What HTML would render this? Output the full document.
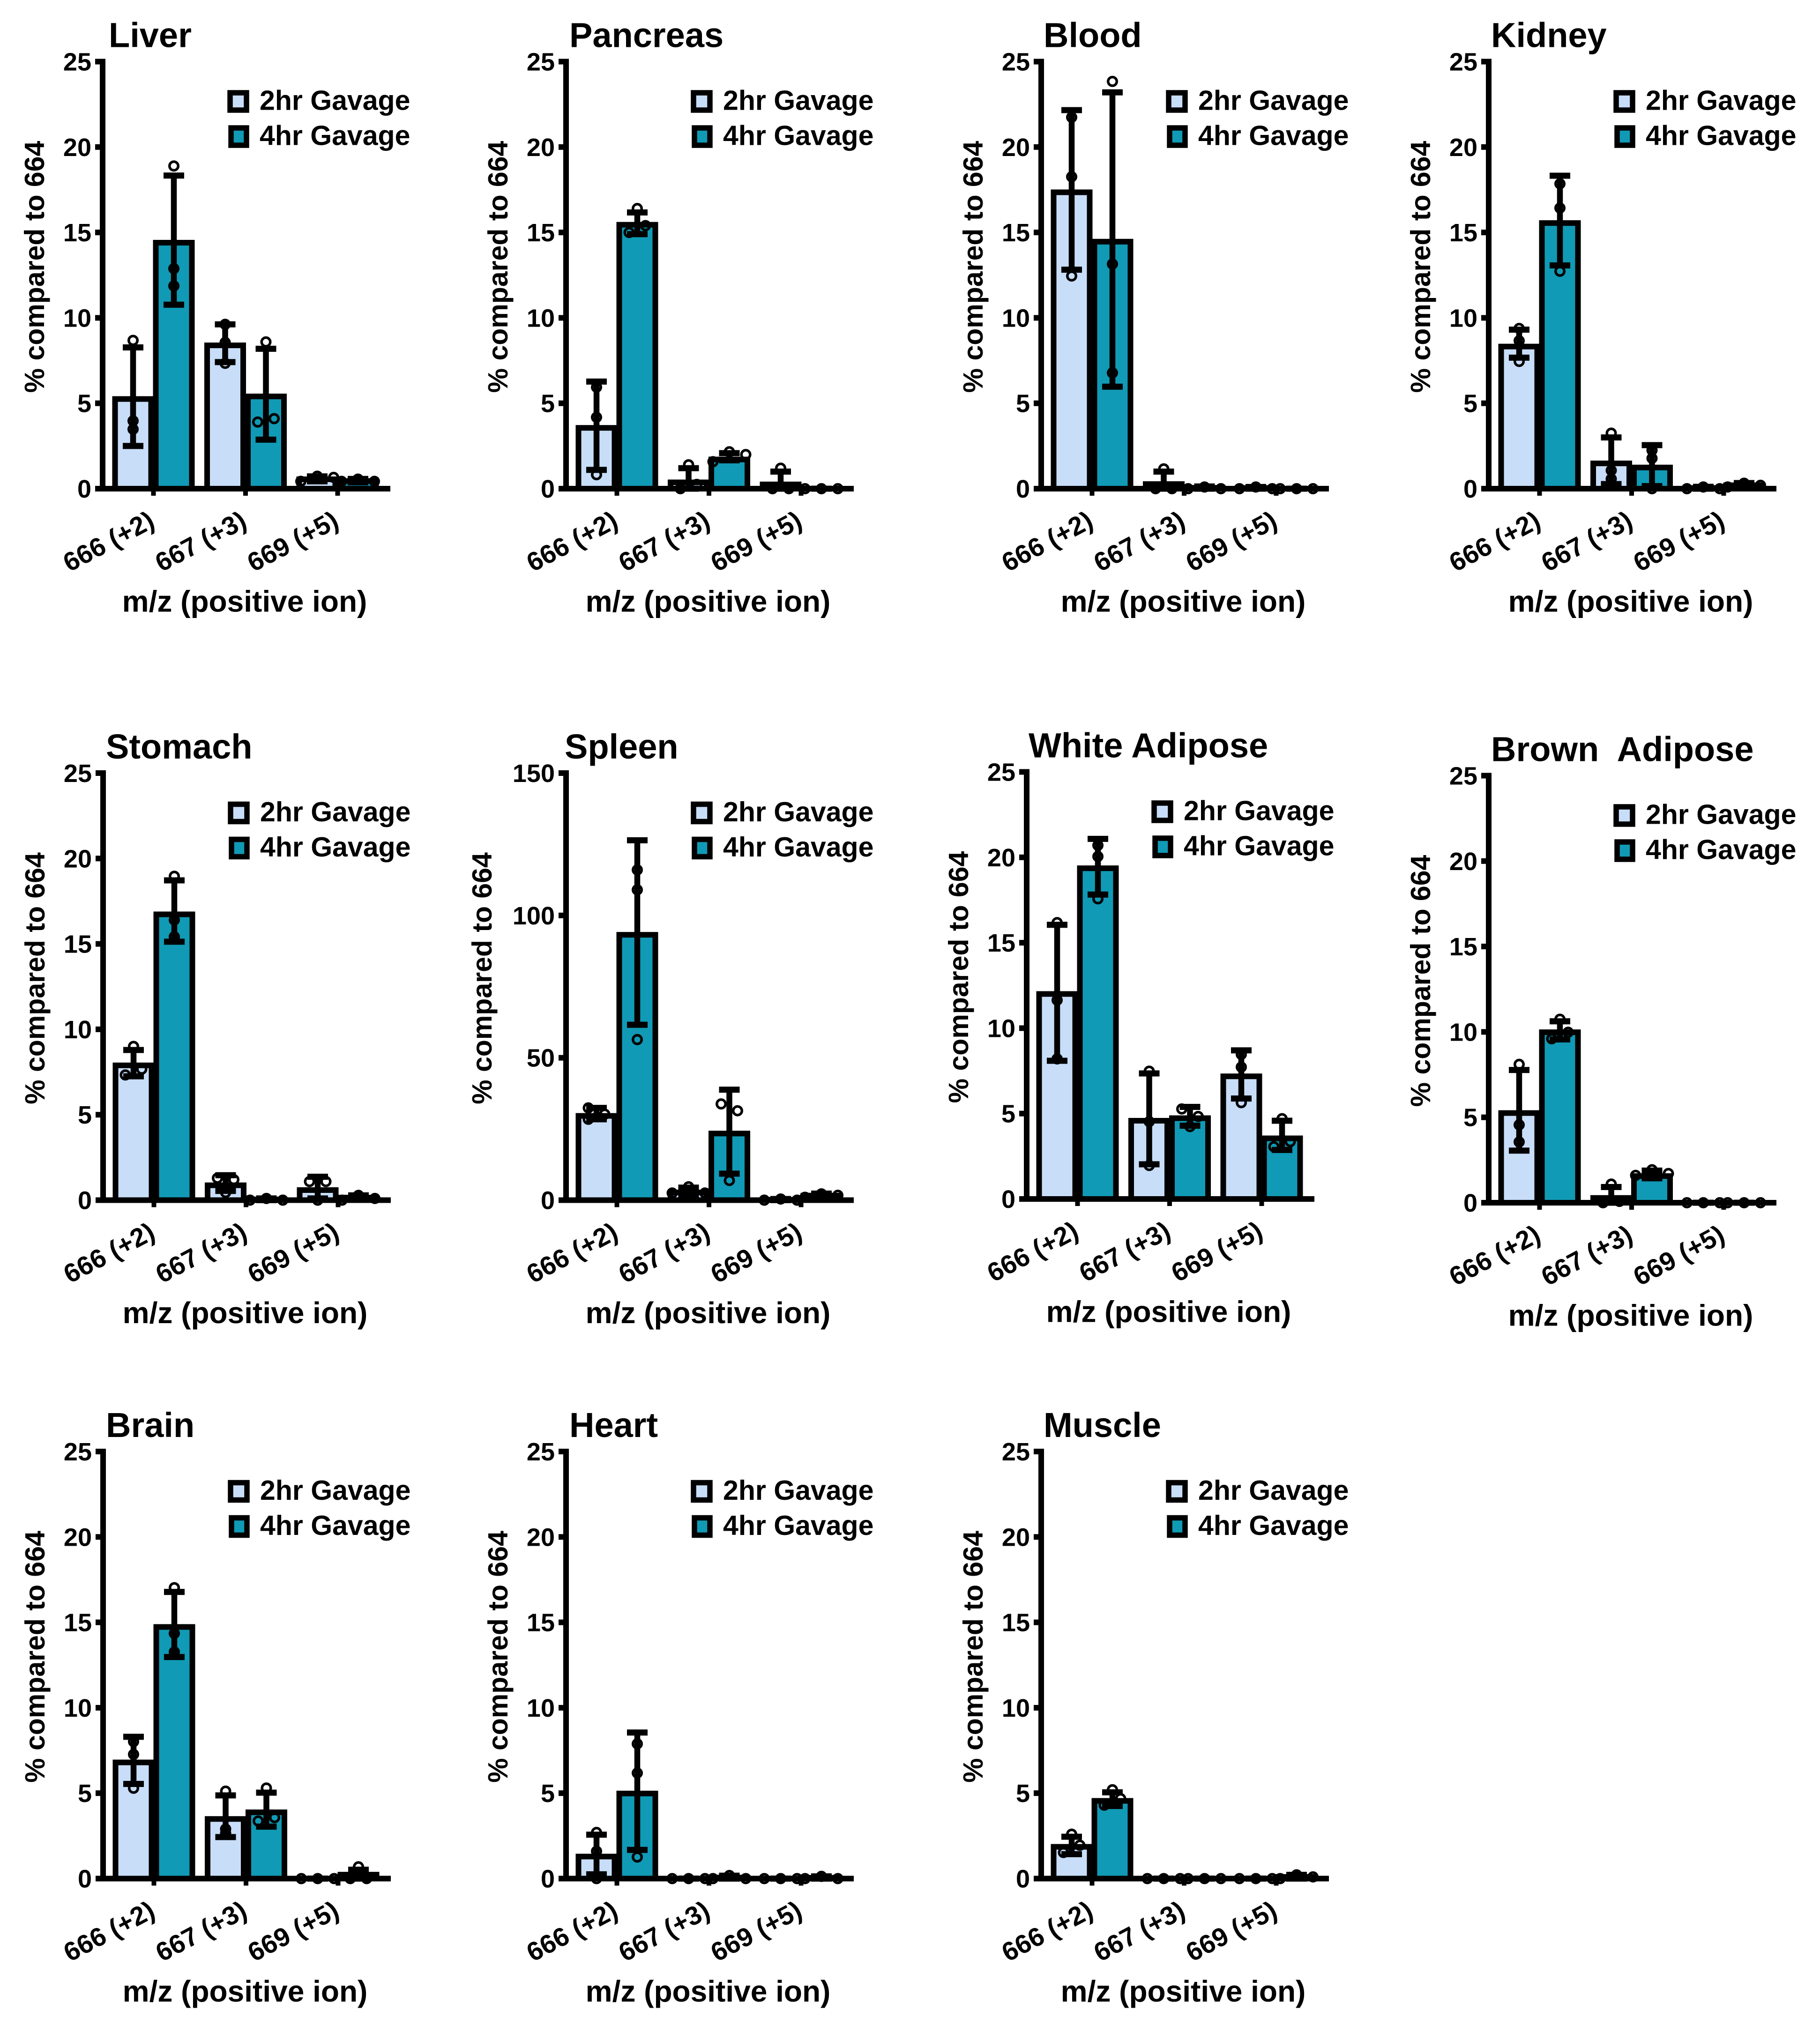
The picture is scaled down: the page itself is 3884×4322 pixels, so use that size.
<!DOCTYPE html>
<html lang="en">
<head>
<meta charset="utf-8">
<title>% compared to 664 by tissue</title>
<style>
html,body{margin:0;padding:0;background:#fff;}
svg{display:block;}
text{font-family:"Liberation Sans",Arial,sans-serif;font-weight:700;fill:#000;}
.title{font-size:74px;}
.ylabel{font-size:59px;text-anchor:middle;}
.xlabel{font-size:64px;text-anchor:middle;}
.legend{font-size:59px;}
.ytick{font-size:54px;text-anchor:end;}
.xtick{font-size:56px;text-anchor:end;}
.sw{stroke:#000;stroke-width:11.5;}
.light{fill:#C8DDF8;}
.teal{fill:#109AB5;}
</style>
</head>
<body>
<svg id="fig" xmlns="http://www.w3.org/2000/svg" width="3884" height="4322" viewBox="0 0 3884 4322">
<rect width="3884" height="4322" fill="#fff"/>

<g id="panel-0" transform="translate(219,131.5)">
<text class="title" x="13" y="-31">Liver</text>
<text class="ylabel" transform="translate(-125,438) rotate(-90)">% compared to 664</text>
<text class="xlabel" x="303" y="1174">m/z (positive ion)</text>
<rect class="sw light" x="272" y="66.5" width="35" height="37"/><text class="legend" x="335" y="103">2hr Gavage</text>
<rect class="sw teal" x="274" y="141.5" width="33" height="37"/><text class="legend" x="335" y="178">4hr Gavage</text>
</g>

<g id="panel-1" transform="translate(1208,131.5)">
<text class="title" x="7" y="-31">Pancreas</text>
<text class="ylabel" transform="translate(-125,438) rotate(-90)">% compared to 664</text>
<text class="xlabel" x="303" y="1174">m/z (positive ion)</text>
<rect class="sw light" x="272" y="66.5" width="35" height="37"/><text class="legend" x="335" y="103">2hr Gavage</text>
<rect class="sw teal" x="274" y="141.5" width="33" height="37"/><text class="legend" x="335" y="178">4hr Gavage</text>
</g>

<g id="panel-2" transform="translate(2222,131.5)">
<text class="title" x="5" y="-31">Blood</text>
<text class="ylabel" transform="translate(-125,438) rotate(-90)">% compared to 664</text>
<text class="xlabel" x="303" y="1174">m/z (positive ion)</text>
<rect class="sw light" x="272" y="66.5" width="35" height="37"/><text class="legend" x="335" y="103">2hr Gavage</text>
<rect class="sw teal" x="274" y="141.5" width="33" height="37"/><text class="legend" x="335" y="178">4hr Gavage</text>
</g>

<g id="panel-3" transform="translate(3177,131.5)">
<text class="title" x="5" y="-31">Kidney</text>
<text class="ylabel" transform="translate(-125,438) rotate(-90)">% compared to 664</text>
<text class="xlabel" x="303" y="1174">m/z (positive ion)</text>
<rect class="sw light" x="272" y="66.5" width="35" height="37"/><text class="legend" x="335" y="103">2hr Gavage</text>
<rect class="sw teal" x="274" y="141.5" width="33" height="37"/><text class="legend" x="335" y="178">4hr Gavage</text>
</g>

<g id="panel-4" transform="translate(220,1650)">
<text class="title" x="6" y="-31">Stomach</text>
<text class="ylabel" transform="translate(-125,438) rotate(-90)">% compared to 664</text>
<text class="xlabel" x="303" y="1174">m/z (positive ion)</text>
<rect class="sw light" x="272" y="66.5" width="35" height="37"/><text class="legend" x="335" y="103">2hr Gavage</text>
<rect class="sw teal" x="274" y="141.5" width="33" height="37"/><text class="legend" x="335" y="178">4hr Gavage</text>
</g>

<g id="panel-5" transform="translate(1208,1650)">
<text class="title" x="-3" y="-31">Spleen</text>
<text class="ylabel" transform="translate(-159,438) rotate(-90)">% compared to 664</text>
<text class="xlabel" x="303" y="1174">m/z (positive ion)</text>
<rect class="sw light" x="272" y="66.5" width="35" height="37"/><text class="legend" x="335" y="103">2hr Gavage</text>
<rect class="sw teal" x="274" y="141.5" width="33" height="37"/><text class="legend" x="335" y="178">4hr Gavage</text>
</g>

<g id="panel-6" transform="translate(2191,1647.5)">
<text class="title" x="4" y="-31">White Adipose</text>
<text class="ylabel" transform="translate(-125,438) rotate(-90)">% compared to 664</text>
<text class="xlabel" x="303" y="1174">m/z (positive ion)</text>
<rect class="sw light" x="272" y="66.5" width="35" height="37"/><text class="legend" x="335" y="103">2hr Gavage</text>
<rect class="sw teal" x="274" y="141.5" width="33" height="37"/><text class="legend" x="335" y="178">4hr Gavage</text>
</g>

<g id="panel-7" transform="translate(3177,1655.5)">
<text class="title" x="5" y="-31" xml:space="preserve" style="white-space:pre">Brown  Adipose</text>
<text class="ylabel" transform="translate(-125,438) rotate(-90)">% compared to 664</text>
<text class="xlabel" x="303" y="1174">m/z (positive ion)</text>
<rect class="sw light" x="272" y="66.5" width="35" height="37"/><text class="legend" x="335" y="103">2hr Gavage</text>
<rect class="sw teal" x="274" y="141.5" width="33" height="37"/><text class="legend" x="335" y="178">4hr Gavage</text>
</g>

<g id="panel-8" transform="translate(220,3098)">
<text class="title" x="6" y="-31">Brain</text>
<text class="ylabel" transform="translate(-125,438) rotate(-90)">% compared to 664</text>
<text class="xlabel" x="303" y="1174">m/z (positive ion)</text>
<rect class="sw light" x="272" y="66.5" width="35" height="37"/><text class="legend" x="335" y="103">2hr Gavage</text>
<rect class="sw teal" x="274" y="141.5" width="33" height="37"/><text class="legend" x="335" y="178">4hr Gavage</text>
</g>

<g id="panel-9" transform="translate(1208,3098)">
<text class="title" x="7" y="-31">Heart</text>
<text class="ylabel" transform="translate(-125,438) rotate(-90)">% compared to 664</text>
<text class="xlabel" x="303" y="1174">m/z (positive ion)</text>
<rect class="sw light" x="272" y="66.5" width="35" height="37"/><text class="legend" x="335" y="103">2hr Gavage</text>
<rect class="sw teal" x="274" y="141.5" width="33" height="37"/><text class="legend" x="335" y="178">4hr Gavage</text>
</g>

<g id="panel-10" transform="translate(2222,3098)">
<text class="title" x="5" y="-31">Muscle</text>
<text class="ylabel" transform="translate(-125,438) rotate(-90)">% compared to 664</text>
<text class="xlabel" x="303" y="1174">m/z (positive ion)</text>
<rect class="sw light" x="272" y="66.5" width="35" height="37"/><text class="legend" x="335" y="103">2hr Gavage</text>
<rect class="sw teal" x="274" y="141.5" width="33" height="37"/><text class="legend" x="335" y="178">4hr Gavage</text>
</g>
</svg>

<script>
// Categories and axis ticks
const mzLabels = ['666 (+2)', '667 (+3)', '669 (+5)'];
const seriesNames = ['2hr', '4hr'];
const defaultTicks = [0, 5, 10, 15, 20, 25];
const spleenTicks = [0, 50, 100, 150];
const panelTicks = [defaultTicks, defaultTicks, defaultTicks, defaultTicks, defaultTicks, spleenTicks, defaultTicks, defaultTicks, defaultTicks, defaultTicks, defaultTicks];

// Each row: one tissue; order 2hr/4hr at 666, 2hr/4hr at 667, 2hr/4hr at 669
const meanValues = [
  [5.25, 14.4, 8.39, 5.4, 0.55, 0.45],
  [3.56, 15.45, 0.37, 1.71, 0.25, 0],
  [17.35, 14.46, 0.27, 0.05, 0.04, 0],
  [8.32, 15.55, 1.48, 1.24, 0.04, 0.2],
  [7.89, 16.73, 0.87, 0.04, 0.59, 0.15],
  [29.6, 93.2, 2.7, 23.4, 0.15, 1.6],
  [12, 19.36, 4.58, 4.73, 7.18, 3.55],
  [5.25, 9.98, 0.28, 1.56, 0, 0],
  [6.8, 14.73, 3.49, 3.88, 0, 0.23],
  [1.29, 4.98, 0, 0.06, 0, 0.05],
  [1.86, 4.55, 0, 0, 0, 0.1]
];
const errorHigh = [
  [8.27, 18.33, 9.62, 8.19, 0.72, 0.57],
  [6.27, 16.17, 1.2, 2.08, 1, 0],
  [22.16, 23.2, 1, 0.13, 0.1, 0],
  [9.31, 18.32, 3, 2.55, 0.11, 0.33],
  [8.79, 18.72, 1.46, 0.1, 1.37, 0.28],
  [32.4, 126.4, 4.4, 38.8, 0.4, 2.3],
  [16.05, 21.08, 7.35, 5.39, 8.7, 4.58],
  [7.77, 10.62, 0.92, 1.88, 0, 0],
  [8.3, 16.78, 4.87, 5.03, 0, 0.52],
  [2.57, 8.55, 0, 0.17, 0, 0.13],
  [2.45, 5.05, 0, 0, 0, 0.22]
];
const errorLow = [
  [2.5, 10.77, 7.41, 2.87, 0.43, 0.37],
  [1.1, 14.9, 0, 1.66, 0, 0],
  [12.82, 5.97, 0, 0, 0, 0],
  [7.67, 13.07, 0.27, 0.15, 0, 0.1],
  [7.25, 15.13, 0.54, 0, 0.1, 0.02],
  [28.4, 61.6, 1.7, 9.3, 0, 1],
  [8.09, 17.82, 2.03, 4.29, 5.88, 2.87],
  [3.05, 9.56, 0, 1.43, 0, 0],
  [5.54, 12.97, 2.43, 3.04, 0, 0],
  [0.25, 1.68, 0, 0, 0, 0],
  [1.43, 4.25, 0, 0, 0, 0]
];
const dotValues = [
  [[8.68,3.97,3.48],[18.89,12.88,11.87],[9.62,8.56,7.34],[8.59,3.9,4.1],[0.43,0.73,0.66],[0.43,0.56,0.43]],
  [[5.94,4.18,0.82],[16.4,15,15.4],[1.4,0,0.25],[1.58,2.16,2],[1.2,0,0],[0,0,0]],
  [[21.74,18.26,12.45],[23.84,13.15,6.78],[1.16,0,0],[0,0.1,0],[0,0.1,0],[0,0,0]],
  [[9.38,8.66,7.45],[17.85,16.43,12.73],[3.25,1.07,0.57],[2.25,1.78,0],[0,0.1,0],[0.1,0.32,0.2]],
  [[9,7.33,7.67],[18.96,16.4,15.42],[0.45,1.29,1.2],[0,0.1,0],[0,1.09,1.09],[0,0.28,0.1]],
  [[32.4,28.4,30.2],[116,109,56.4],[2.5,4.7,2.5],[6.9,33.8,31.4],[0,0.4,0],[1,2.2,1.7]],
  [[16.18,11.64,8.2],[20.7,20.05,17.57],[7.48,4.53,1.96],[4.24,5.27,4.83],[8.46,7.72,5.64],[4.7,3.06,3.36]],
  [[8.1,4.56,3.56],[10.74,9.6,9.98],[1.09,0,0.08],[1.6,1.93,1.71],[0,0,0],[0,0,0]],
  [[8.02,7.27,5.29],[17.03,14.35,13.27],[5.12,2.9,2.65],[5.3,3.37,3.57],[0,0,0],[0.69,0,0]],
  [[2.7,1.6,0],[7.89,6.18,1.26],[0,0,0],[0,0.18,0],[0,0,0],[0,0.13,0]],
  [[2.6,1.53,1.95],[5.2,4.3,4.68],[0,0,0],[0,0,0],[0,0,0],[0,0.22,0.1]]
];
// Swarm arrangement of each bar's three dots: c centre, l/r near side, L/R far side
const dotSlots = [
  ['ccc','ccc','ccc','clr','LcR','LcR'],
  ['ccc','clr','clr','LcR','clr','LcR'],
  ['ccc','ccc','clr','LcR','LcR','LcR'],
  ['ccc','ccc','ccc','ccc','LcR','LcR'],
  ['clr','ccc','clr','LcR','clr','LcR'],
  ['llr','ccc','LcR','clr','LcR','LcR'],
  ['ccc','ccc','ccc','clr','ccc','clr'],
  ['ccc','clr','clr','LcR','LcR','LcR'],
  ['ccc','ccc','ccc','clr','LcR','clr'],
  ['ccc','ccc','LcR','LcR','LcR','LcR'],
  ['clr','clr','LcR','LcR','LcR','LcR']
];

const NS = 'http://www.w3.org/2000/svg';
const plotH = 911.5;
const groupStart = 108.5;
const groupStep = 196.5;
const barOffset = 43.5;
const barHalf = 38.5;
const slotOffsets = { c: 0, l: -17.5, r: 17.5, L: -35, R: 35 };

function mk(tag, attrs, parent) {
  const el = document.createElementNS(NS, tag);
  for (const k in attrs) el.setAttribute(k, attrs[k]);
  parent.appendChild(el);
  return el;
}
function yScale(v, max) { return plotH - plotH * v / max; }
function groupX(g) { return groupStart + groupStep * g; }

meanValues.forEach(function (means, p) {
  const panel = document.getElementById('panel-' + p);
  const ticks = panelTicks[p];
  const max = ticks[ticks.length - 1];

  means.forEach(function (m, i) {
    const g = Math.floor(i / 2);
    const s = i % 2;
    const cx = groupX(g) + (s === 0 ? -barOffset : barOffset);
    const top = yScale(m, max);
    const bar = mk('rect', { x: cx - barHalf, y: top, width: barHalf * 2, height: Math.max(0, plotH - top), fill: s === 0 ? '#C8DDF8' : '#109AB5', stroke: '#000', 'stroke-width': 12 }, panel);
    
    
  });

  const yAxis = mk('rect', { x: -6, y: -6, width: 12, height: plotH + 12, fill: '#000' }, panel);
  
  
  const xAxis = mk('rect', { x: -16, y: plotH - 6, width: 630, height: 12, fill: '#000' }, panel);
  
  

  ticks.forEach(function (t) {
    const y = yScale(t, max);
    const tick = mk('rect', { x: -16, y: y - 6, width: 12, height: 12, fill: '#000' }, panel);
    
    
    const label = mk('text', { class: 'ytick', x: -24, y: y + 19 }, panel);
    label.textContent = String(t);
    
    
  });

  mzLabels.forEach(function (name, g) {
    const x = groupX(g);
    const tick = mk('rect', { x: x - 5, y: plotH + 4, width: 10, height: 11, fill: '#000' }, panel);
    
    
    const label = mk('text', { class: 'xtick', transform: 'translate(' + (x + 6) + ',' + (plotH + 80) + ') rotate(-28)' }, panel);
    label.textContent = name;
    
    
  });

  means.forEach(function (m, i) {
    const g = Math.floor(i / 2);
    const s = i % 2;
    const cx = groupX(g) + (s === 0 ? -barOffset : barOffset);
    dotValues[p][i].forEach(function (v, d) {
      const dot = mk('circle', { cx: cx + slotOffsets[dotSlots[p][i][d]], cy: yScale(v, max), r: 9.25, fill: 'none', stroke: '#000', 'stroke-width': 5.5 }, panel);
      
      
    });
    const yHi = yScale(errorHigh[p][i], max);
    const yLo = yScale(errorLow[p][i], max);
    const stem = mk('rect', { x: cx - 6.25, y: yHi, width: 12.5, height: Math.max(0, yLo - yHi), fill: '#000' }, panel);
    
    
    const capHi = mk('rect', { x: cx - 22, y: yHi - 6.5, width: 44, height: 13, fill: '#000' }, panel);
    
    
    const capLo = mk('rect', { x: cx - 22, y: yLo - 6.5, width: 44, height: 13, fill: '#000' }, panel);
    
    
  });
});
</script>
</body>
</html>
